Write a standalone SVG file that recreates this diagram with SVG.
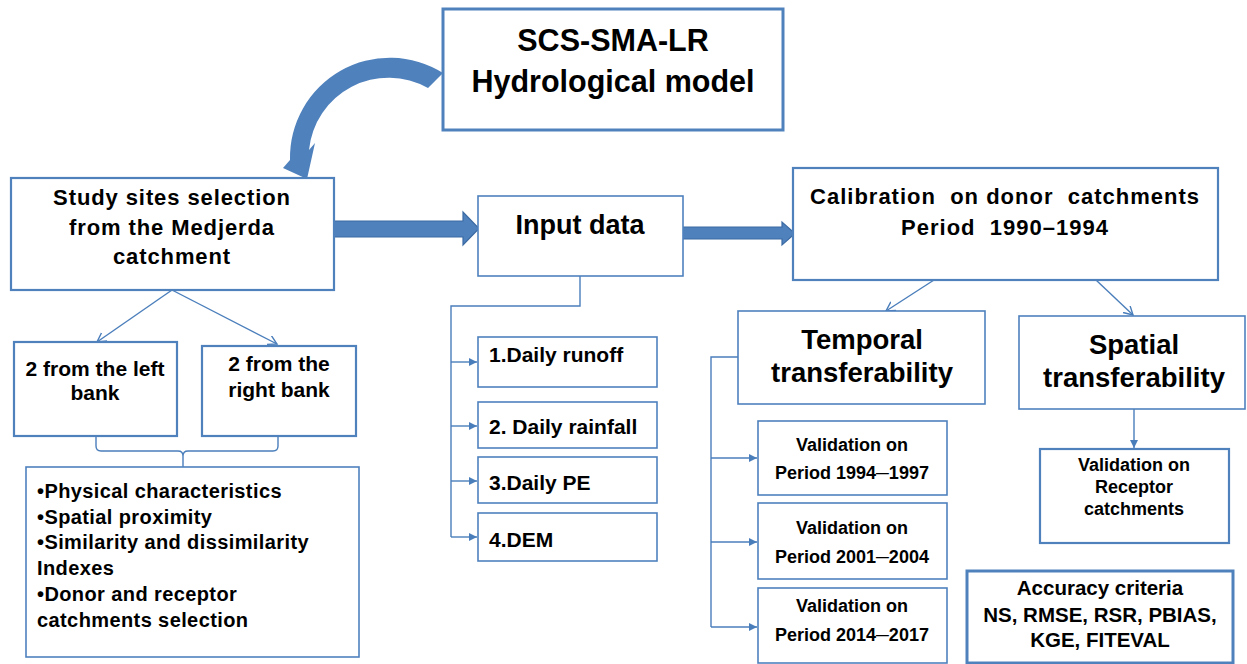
<svg xmlns="http://www.w3.org/2000/svg" width="1247" height="664" viewBox="0 0 1247 664">
<style>
.box{fill:#fff;stroke:#4F81BD;stroke-width:1.6}
.b2{stroke-width:2.2}
.b3{stroke-width:3}
.t{font-family:"Liberation Sans",Arial,sans-serif;font-weight:bold;fill:#000}
.c{text-anchor:middle}
.ln{fill:none;stroke:#4A7EBB;stroke-width:1.4}
.thick{fill:#4F81BD;stroke:#3C6BA3;stroke-width:1.2}
</style>
<defs>
<marker id="fa" markerUnits="userSpaceOnUse" markerWidth="10" markerHeight="10" refX="8" refY="4" orient="auto"><path d="M0,0 L8,4 L0,8 z" fill="#4A7EBB"/></marker>
<marker id="oa" markerUnits="userSpaceOnUse" markerWidth="12" markerHeight="12" refX="9" refY="5" orient="auto"><path d="M0,0 L9,5 L0,10" fill="none" stroke="#4A7EBB" stroke-width="1.4"/></marker>
</defs>

<g id="connectors">
<path class="thick" d="M333,221 H463 V212 L479,228.5 L463,245 V237 H333 Z"/>
<path class="thick" d="M682,227 H782 V222 L795,233.5 L782,245 V239 H682 Z"/>
<path d="M443,73 A100,100 0 0 0 290,160 L283,168 L307,179 L315,143 L309,150 A80,80 0 0 1 428,88 Z" fill="#4F81BD"/>
<path class="ln" d="M172,290 L97,342" marker-end="url(#oa)"/>
<path class="ln" d="M172,290 L277,344" marker-end="url(#oa)"/>
<path class="ln" d="M96,436 V446 Q96,451 101,451 H178 Q183,451 183,456 V467 M278,436 V446 Q278,451 273,451 H188 Q183,451 183,456"/>
<path class="ln" d="M580,276 V306 H451 V537"/>
<path class="ln" d="M451,362 H477" marker-end="url(#fa)"/>
<path class="ln" d="M451,426 H477" marker-end="url(#fa)"/>
<path class="ln" d="M451,481 H477" marker-end="url(#fa)"/>
<path class="ln" d="M451,537 H477" marker-end="url(#fa)"/>
<path class="ln" d="M934,280 L886,311" marker-end="url(#oa)"/>
<path class="ln" d="M1096,280 L1133,315" marker-end="url(#oa)"/>
<path class="ln" d="M738,357 H711 V627"/>
<path class="ln" d="M711,458 H757" marker-end="url(#fa)"/>
<path class="ln" d="M711,542 H757" marker-end="url(#fa)"/>
<path class="ln" d="M711,627 H757" marker-end="url(#fa)"/>
<path class="ln" d="M1134,409 V448" marker-end="url(#fa)"/>
</g>

<g id="model">
<rect class="box b3" x="443" y="9" width="340" height="121"/>
<text class="t c" x="613" y="51" font-size="30.5">SCS-SMA-LR</text>
<text class="t c" x="613" y="92" font-size="30.5">Hydrological model</text>
</g>

<g id="study">
<rect class="box b2" x="11" y="178" width="323" height="112"/>
<text class="t c" x="172" y="205" font-size="22" letter-spacing="0.9">Study sites selection</text>
<text class="t c" x="172" y="235" font-size="22" letter-spacing="0.9">from the Medjerda</text>
<text class="t c" x="172" y="264" font-size="22" letter-spacing="0.9">catchment</text>
</g>

<g id="input">
<rect class="box" x="478" y="196" width="205" height="80"/>
<text class="t c" x="580" y="234" font-size="27">Input data</text>
</g>

<g id="calibration">
<rect class="box b2" x="793" y="168" width="425" height="112"/>
<text class="t c" x="1005" y="204" font-size="22" letter-spacing="1" xml:space="preserve">Calibration  on donor  catchments</text>
<text class="t c" x="1005" y="235" font-size="22" letter-spacing="1" xml:space="preserve">Period  1990–1994</text>
</g>

<g id="leftbank">
<rect class="box b2" x="14" y="342" width="163" height="94"/>
<text class="t c" x="95" y="376" font-size="21">2 from the left</text>
<text class="t c" x="95" y="400" font-size="21">bank</text>
</g>

<g id="rightbank">
<rect class="box b2" x="202" y="346" width="154" height="90"/>
<text class="t c" x="279" y="371" font-size="21">2 from the</text>
<text class="t c" x="279" y="397" font-size="21">right bank</text>
</g>

<g id="criteria">
<rect class="box" x="26" y="467" width="333" height="190"/>
<text class="t" x="37" font-size="20" letter-spacing="0.4">
<tspan x="37" y="498">•Physical characteristics</tspan>
<tspan x="37" y="524">•Spatial proximity</tspan>
<tspan x="37" y="549">•Similarity and dissimilarity</tspan>
<tspan x="37" y="575">Indexes</tspan>
<tspan x="37" y="601">•Donor and receptor</tspan>
<tspan x="37" y="627">catchments selection</tspan>
</text>
</g>

<g id="runoff">
<rect class="box" x="478" y="337" width="179" height="50"/>
<text class="t" x="489" y="362" font-size="21">1.Daily runoff</text>
</g>
<g id="rainfall">
<rect class="box" x="478" y="402" width="179" height="46"/>
<text class="t" x="489" y="434" font-size="21">2. Daily rainfall</text>
</g>
<g id="pe">
<rect class="box" x="478" y="457" width="179" height="46"/>
<text class="t" x="489" y="490" font-size="21">3.Daily PE</text>
</g>
<g id="dem">
<rect class="box" x="478" y="513" width="179" height="48"/>
<text class="t" x="489" y="547" font-size="21">4.DEM</text>
</g>

<g id="temporal">
<rect class="box" x="738" y="311" width="247" height="93"/>
<text class="t c" x="862" y="349" font-size="27.5">Temporal</text>
<text class="t c" x="862" y="382" font-size="27.5">transferability</text>
</g>

<g id="spatial">
<rect class="box" x="1019" y="316" width="226" height="93"/>
<text class="t c" x="1134" y="354" font-size="27.5">Spatial</text>
<text class="t c" x="1134" y="387" font-size="27.5">transferability</text>
</g>

<g id="val1">
<rect class="box" x="758" y="421" width="189" height="74"/>
<text class="t c" x="852" y="451" font-size="18">Validation on</text>
<text class="t c" x="852" y="479" font-size="18">Period 1994─1997</text>
</g>
<g id="val2">
<rect class="box" x="758" y="503" width="189" height="76"/>
<text class="t c" x="852" y="534" font-size="18">Validation on</text>
<text class="t c" x="852" y="563" font-size="18">Period 2001─2004</text>
</g>
<g id="val3">
<rect class="box" x="758" y="588" width="189" height="75"/>
<text class="t c" x="852" y="612" font-size="18">Validation on</text>
<text class="t c" x="852" y="641" font-size="18">Period 2014─2017</text>
</g>

<g id="receptor">
<rect class="box b2" x="1040" y="449" width="189" height="94"/>
<text class="t c" x="1134" y="471" font-size="18">Validation on</text>
<text class="t c" x="1134" y="493" font-size="18">Receptor</text>
<text class="t c" x="1134" y="515" font-size="18">catchments</text>
</g>

<g id="accuracy">
<rect class="box b3" x="967" y="571" width="266" height="92"/>
<text class="t c" x="1100" y="595" font-size="20.5">Accuracy criteria</text>
<text class="t c" x="1100" y="622" font-size="20.5">NS, RMSE, RSR, PBIAS,</text>
<text class="t c" x="1100" y="647" font-size="20.5">KGE, FITEVAL</text>
</g>
</svg>
